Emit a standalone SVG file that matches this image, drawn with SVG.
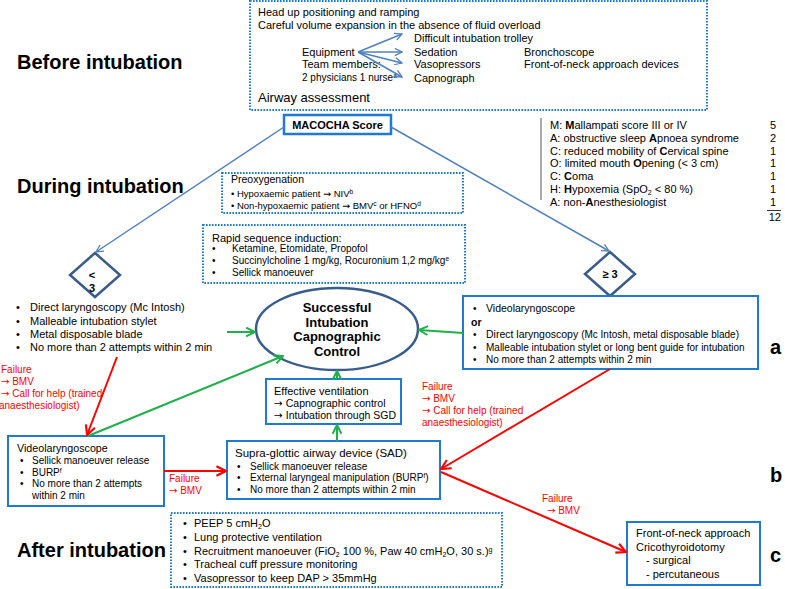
<svg xmlns="http://www.w3.org/2000/svg" width="785" height="589" viewBox="0 0 785 589">
<style>
text{font-family:"Liberation Sans",Arial,sans-serif;fill:#000}
.title{font-size:20px;font-weight:bold}
.t11{font-size:11px}
.t10{font-size:10px}
.red{fill:#ff0000;font-size:10px}
.b{font-weight:bold}
.ar{font-family:"DejaVu Sans",sans-serif}
.dot{fill:#fff;stroke:#1f7ad0;stroke-width:2;stroke-dasharray:1.6 1.4}
.box{fill:#fff;stroke:#1f7ad0;stroke-width:2}
.dia{fill:#fff;stroke:#385d8a;stroke-width:2.5}
.bl{stroke:#4f81bd;stroke-width:1.5;fill:none}
.gr{stroke:#1fb04b;stroke-width:2;fill:none}
.rd{stroke:#ff0000;stroke-width:2;fill:none}
</style>
<defs>
<marker id="ab" viewBox="0 0 10 10" refX="9" refY="5" markerWidth="9" markerHeight="9" orient="auto" markerUnits="userSpaceOnUse"><path d="M1,1 L9,5 L1,9" fill="none" stroke="#4f81bd" stroke-width="1.4"/></marker>
<marker id="ag" viewBox="0 0 10 10" refX="9" refY="5" markerWidth="11" markerHeight="11" orient="auto" markerUnits="userSpaceOnUse"><path d="M1,1 L9,5 L1,9" fill="none" stroke="#1fb04b" stroke-width="1.8"/></marker>
<marker id="ar" viewBox="0 0 10 10" refX="9" refY="5" markerWidth="12" markerHeight="12" orient="auto" markerUnits="userSpaceOnUse"><path d="M1,1 L9,5 L1,9" fill="none" stroke="#ff0000" stroke-width="1.8"/></marker>
</defs>
<rect width="785" height="589" fill="#fff"/>

<g id="titles">
<text x="17" y="69" class="title">Before intubation</text>
<text x="17" y="193" class="title">During intubation</text>
<text x="17" y="557" class="title">After intubation</text>
<text x="770" y="354" class="title">a</text>
<text x="770" y="482" class="title">b</text>
<text x="770" y="562" class="title">c</text>
</g>

<g id="before">
<rect x="250" y="1" width="457" height="109" class="dot"/>
<text x="258" y="16" class="t11">Head up positioning and ramping</text>
<text x="258" y="29" class="t11">Careful volume expansion in the absence of fluid overload</text>
<text x="414" y="42" class="t11">Difficult intubation trolley</text>
<text x="302" y="56" class="t11">Equipment</text>
<text x="414" y="56" class="t11">Sedation</text>
<text x="524" y="56" class="t11">Bronchoscope</text>
<text x="302" y="68" class="t11">Team members:</text>
<text x="414" y="68" class="t11">Vasopressors</text>
<text x="524" y="68" class="t11">Front-of-neck approach devices</text>
<text x="302" y="81" class="t10">2 physicians 1 nurse<tspan font-size="6.5" dy="-3">a</tspan></text>
<text x="414" y="82" class="t11">Capnograph</text>
<text x="258" y="102" font-size="13">Airway assessment</text>
<g id="equip-arrows">
<line x1="358" y1="52" x2="402" y2="34" class="bl" stroke-width="1" marker-end="url(#ab)"/>
<line x1="358" y1="52" x2="402" y2="52" class="bl" stroke-width="1" marker-end="url(#ab)"/>
<line x1="358" y1="52" x2="402" y2="63" class="bl" stroke-width="1" marker-end="url(#ab)"/>
<line x1="358" y1="52" x2="402" y2="77" class="bl" stroke-width="1" marker-end="url(#ab)"/>
</g>
</g>

<g id="macocha">
<rect x="284" y="115" width="107" height="19" fill="#fff" stroke="#1f7ad0" stroke-width="2.5"/>
<text x="337.5" y="129" class="t11 b" text-anchor="middle">MACOCHA Score</text>
</g>

<g id="score">
<line x1="541" y1="118" x2="541" y2="200" stroke="#555" stroke-width="1"/>
<text x="550" y="129" class="t11">M: <tspan class="b">M</tspan>allampati score III or IV</text>
<text x="550" y="141.8" class="t11">A: obstructive sleep <tspan class="b">A</tspan>pnoea syndrome</text>
<text x="550" y="154.6" class="t11">C: reduced mobility of <tspan class="b">C</tspan>ervical spine</text>
<text x="550" y="167.4" class="t11">O: limited mouth <tspan class="b">O</tspan>pening (&lt; 3 cm)</text>
<text x="550" y="180.2" class="t11">C: <tspan class="b">C</tspan>oma</text>
<text x="550" y="193" class="t11">H: <tspan class="b">H</tspan>ypoxemia (SpO<tspan font-size="7" dy="2">2</tspan><tspan dy="-2"> &lt; 80 %)</tspan></text>
<text x="550" y="205.8" class="t11">A: non-<tspan class="b">A</tspan>nesthesiologist</text>
<text x="776" y="129" class="t11" text-anchor="end">5</text>
<text x="776" y="141.8" class="t11" text-anchor="end">2</text>
<text x="776" y="154.6" class="t11" text-anchor="end">1</text>
<text x="776" y="167.4" class="t11" text-anchor="end">1</text>
<text x="776" y="180.2" class="t11" text-anchor="end">1</text>
<text x="776" y="193" class="t11" text-anchor="end">1</text>
<text x="776" y="205.8" class="t11" text-anchor="end">1</text>
<line x1="767" y1="210.5" x2="781" y2="210.5" stroke="#000" stroke-width="0.8"/>
<text x="781" y="221" class="t11" text-anchor="end">12</text>
</g>

<g id="preox">
<rect x="222" y="173" width="241" height="40" class="dot"/>
<text x="231" y="183" font-size="10.5">Preoxygenation</text>
<text x="231" y="196.5" font-size="9.5">• Hypoxaemic patient <tspan class="ar">→</tspan> NIV<tspan font-size="6.5" dy="-3">b</tspan></text>
<text x="231" y="208.5" font-size="9.5">• Non-hypoxaemic patient <tspan class="ar">→</tspan> BMV<tspan font-size="6.5" dy="-3">c</tspan><tspan dy="3"> or HFNO</tspan><tspan font-size="6.5" dy="-3">d</tspan></text>
</g>

<g id="rsi">
<rect x="203" y="225" width="262" height="58" class="dot"/>
<text x="212" y="242" class="t11">Rapid sequence induction:</text>
<text x="212" y="252" class="t10">•</text>
<text x="232" y="252" class="t10">Ketamine, Etomidate, Propofol</text>
<text x="212" y="264" class="t10">•</text>
<text x="232" y="264" class="t10">Succinylcholine 1 mg/kg, Rocuronium 1,2 mg/kg<tspan font-size="6.5" dy="-3">e</tspan></text>
<text x="212" y="276" class="t10">•</text>
<text x="232" y="276" class="t10">Sellick manoeuver</text>
</g>

<g id="diamond-low">
<polygon points="95,253 120,275 95,297 70,275" class="dia"/>
<text x="92" y="279" class="t11 b" text-anchor="middle">&lt;</text>
<text x="92" y="292" class="t11 b" text-anchor="middle">3</text>
</g>

<g id="diamond-high">
<polygon points="610,252 635,274 610,296 585,274" class="dia"/>
<text x="610" y="278" class="t11 b" text-anchor="middle">≥ 3</text>
</g>

<g id="left-list">
<text x="16" y="311" class="t11">•</text><text x="30" y="311" class="t11">Direct laryngoscopy (Mc Intosh)</text>
<text x="16" y="324.5" class="t11">•</text><text x="30" y="324.5" class="t11">Malleable intubation stylet</text>
<text x="16" y="338" class="t11">•</text><text x="30" y="338" class="t11">Metal disposable blade</text>
<text x="16" y="351" class="t11">•</text><text x="30" y="351" class="t11">No more than 2 attempts within 2 min</text>
</g>

<g id="success">
<ellipse cx="337" cy="329" rx="81" ry="41" fill="#fff" stroke="#385d8a" stroke-width="2.5"/>
<text x="337" y="312" font-size="13" class="b" text-anchor="middle">Successful</text>
<text x="337" y="326.5" font-size="13" class="b" text-anchor="middle">Intubation</text>
<text x="337" y="341" font-size="13" class="b" text-anchor="middle">Capnographic</text>
<text x="337" y="355.5" font-size="13" class="b" text-anchor="middle">Control</text>
</g>

<g id="right-box">
<rect x="463" y="296" width="295" height="73" class="box"/>
<text x="473" y="312" class="t10">•</text><text x="486" y="312" font-size="10.5">Videolaryngoscope</text>
<text x="471" y="326" font-size="10.5" class="b">or</text>
<text x="473" y="338" class="t10">•</text><text x="486" y="338" font-size="10.5">Direct laryngoscopy <tspan font-size="10">(Mc Intosh, metal disposable blade)</tspan></text>
<text x="473" y="351" class="t10">•</text><text x="486" y="351" class="t10">Malleable intubation stylet or long bent guide for intubation</text>
<text x="473" y="363" class="t10">•</text><text x="486" y="363" class="t10">No more than 2 attempts within 2 min</text>
</g>

<g id="effective">
<rect x="266" y="379" width="135" height="45" class="box"/>
<text x="274" y="395" class="t11">Effective ventilation</text>
<text x="274" y="407" font-size="10.5"><tspan class="ar">→</tspan> Capnographic control</text>
<text x="274" y="419" font-size="10.5"><tspan class="ar">→</tspan> Intubation through SGD</text>
</g>

<g id="video">
<rect x="8" y="436" width="156" height="70" class="box"/>
<text x="17" y="452" font-size="10.7">Videolaryngoscope</text>
<text x="20" y="464" class="t10">•</text><text x="32" y="464" class="t10">Sellick manoeuver release</text>
<text x="20" y="476" class="t10">•</text><text x="32" y="476" class="t10">BURP<tspan font-size="6.5" dy="-3">f</tspan></text>
<text x="20" y="487" class="t10">•</text><text x="32" y="487" class="t10">No more than 2 attempts</text>
<text x="32" y="499" class="t10">within 2 min</text>
</g>

<g id="sad">
<rect x="227" y="441" width="213" height="58" class="box"/>
<text x="235" y="457" font-size="11.5">Supra-glottic airway device (SAD)</text>
<text x="237" y="470" class="t10">•</text><text x="250" y="470" class="t10">Sellick manoeuver release</text>
<text x="237" y="481" class="t10">•</text><text x="250" y="481" class="t10">External laryngeal manipulation (BURP<tspan font-size="6.5" dy="-3">f</tspan><tspan dy="3">)</tspan></text>
<text x="237" y="493" class="t10">•</text><text x="250" y="493" class="t10">No more than 2 attempts within 2 min</text>
</g>

<g id="fon">
<rect x="627" y="522" width="133" height="63" class="box"/>
<text x="636" y="537" class="t11">Front-of-neck approach</text>
<text x="636" y="551" class="t11">Cricothyroidotomy</text>
<text x="646" y="564" class="t11">- surgical</text>
<text x="646" y="578" class="t11">- percutaneous</text>
</g>

<g id="after">
<rect x="171" y="513" width="331" height="74" class="dot"/>
<text x="183" y="527" class="t11">•</text><text x="194" y="527" class="t11">PEEP 5 cmH<tspan font-size="7" dy="2">2</tspan><tspan dy="-2">O</tspan></text>
<text x="183" y="541" class="t11">•</text><text x="194" y="541" class="t11">Lung protective ventilation</text>
<text x="183" y="555" class="t11">•</text><text x="194" y="555" class="t11">Recruitment manoeuver (FiO<tspan font-size="7" dy="2">2</tspan><tspan dy="-2"> 100 %, Paw 40 cmH</tspan><tspan font-size="7" dy="2">2</tspan><tspan dy="-2">O, 30 s.)</tspan><tspan font-size="7" dy="-3">g</tspan></text>
<text x="183" y="568" class="t11">•</text><text x="194" y="568" class="t11">Tracheal cuff pressure monitoring</text>
<text x="183" y="582" class="t11">•</text><text x="194" y="582" class="t11">Vasopressor to keep DAP &gt; 35mmHg</text>
</g>

<g id="red-labels">
<text x="1" y="373" class="red">Failure</text>
<text x="1" y="385" class="red"><tspan class="ar">→</tspan> BMV</text>
<text x="1" y="397" class="red"><tspan class="ar">→</tspan> Call for help (trained</text>
<text x="-1" y="409" class="red">anaesthesiologist)</text>
<text x="169" y="482" class="red">Failure</text>
<text x="169" y="494" class="red"><tspan class="ar">→</tspan> BMV</text>
<text x="422" y="390" class="red">Failure</text>
<text x="422" y="402" class="red"><tspan class="ar">→</tspan> BMV</text>
<text x="422" y="414" class="red"><tspan class="ar">→</tspan> Call for help (trained</text>
<text x="422" y="426" class="red">anaesthesiologist)</text>
<text x="542" y="502" class="red">Failure</text>
<text x="547" y="514" class="red"><tspan class="ar">→</tspan> BMV</text>
</g>

<g id="connectors">
<line x1="284" y1="127" x2="96" y2="252" class="bl" marker-end="url(#ab)"/>
<line x1="391" y1="127" x2="609" y2="251" class="bl" marker-end="url(#ab)"/>
<line x1="227" y1="332" x2="255" y2="332" class="gr" marker-end="url(#ag)"/>
<line x1="463" y1="333" x2="419" y2="330" class="gr" marker-end="url(#ag)"/>
<line x1="88" y1="436" x2="283" y2="356" class="gr" marker-end="url(#ag)"/>
<line x1="337" y1="379" x2="337" y2="371" class="gr" marker-end="url(#ag)"/>
<line x1="337" y1="441" x2="337" y2="425" class="gr" marker-end="url(#ag)"/>
<line x1="117" y1="357" x2="87" y2="435" class="rd" marker-end="url(#ar)"/>
<line x1="164" y1="471" x2="226" y2="471" class="rd" marker-end="url(#ar)"/>
<line x1="610" y1="369" x2="441" y2="469" class="rd" marker-end="url(#ar)"/>
<line x1="441" y1="472" x2="626" y2="552" class="rd" marker-end="url(#ar)"/>
</g>
</svg>
